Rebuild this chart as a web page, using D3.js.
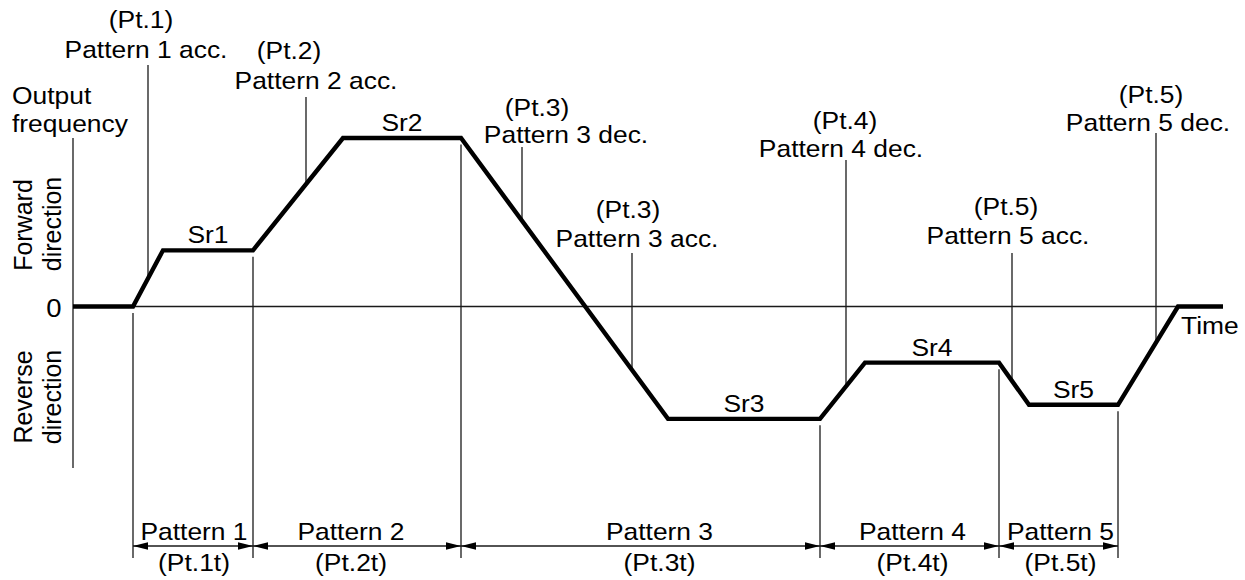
<!DOCTYPE html>
<html>
<head>
<meta charset="utf-8">
<script src="https://cdn.jsdelivr.net/npm/d3@7"></script>
<style>
  body { margin: 0; background: #fff; }
  svg text { font-family: "Liberation Sans", Arial, Helvetica, sans-serif; fill: #000; }
</style>
</head>
<body>
<div id="viz"></div>
<script>
// Output frequency vs time, 5-step pattern run

// profile breakpoints (time units, frequency units)
const TIME = [0, 60, 90, 180, 270, 388, 595, 747, 792, 926, 956, 1045, 1105, 1150];
const FREQ = [0, 0, 20, 20, 60, 60, -40, -40, -20, -20, -35, -35, 0, 0];

// pattern boundaries on the time axis
const BOUNDARIES = [60, 180, 388, 747, 926, 1045];
const PATTERNS = ["Pattern 1", "Pattern 2", "Pattern 3", "Pattern 4", "Pattern 5"];
const PATTERN_TIMES = ["(Pt.1t)", "(Pt.2t)", "(Pt.3t)", "(Pt.4t)", "(Pt.5t)"];

// speed plateaus: index of plateau start in TIME
const SPEEDS = ["Sr1", "Sr2", "Sr3", "Sr4", "Sr5"];
const SPEED_START = [2, 4, 6, 8, 10];

// callouts on the ramps
const CALLOUT_T = [75, 233, 449, 559, 773, 939, 1083];
const CALLOUT_REF = ["(Pt.1)", "(Pt.2)", "(Pt.3)", "(Pt.3)", "(Pt.4)", "(Pt.5)", "(Pt.5)"];
const CALLOUT_TEXT = ["Pattern 1 acc.", "Pattern 2 acc.", "Pattern 3 dec.", "Pattern 3 acc.",
                      "Pattern 4 dec.", "Pattern 5 acc.", "Pattern 5 dec."];

// layout only (pixels): leader top, line offsets / baselines
const CALLOUT_LAYOUT = [
  { top: 65,  dx1: -7,  b1: 28,  dx2: -2,  b2: 58 },
  { top: 97,  dx1: -17, b1: 59,  dx2: 10,  b2: 89 },
  { top: 147, dx1: 15,  b1: 116, dx2: 44,  b2: 143 },
  { top: 253, dx1: -4,  b1: 218, dx2: 5,   b2: 247 },
  { top: 160, dx1: -1,  b1: 129, dx2: -5,  b2: 157 },
  { top: 253, dx1: -6,  b1: 215, dx2: -4,  b2: 244 },
  { top: 133, dx1: -5,  b1: 103, dx2: -8,  b2: 131 }
];
const PATTERN_DX = [1, -6, 19, 3, 2];

const width = 1245, height = 580;
const STRETCH = 1.1;   // glyphs in the source are a little wide

const x = d3.scaleLinear().domain([0, 1150]).range([73, 1223]);
const y = d3.scaleLinear().domain([-60, 60]).range([475, 138]);

const svg = d3.select("#viz").append("svg")
  .attr("width", width).attr("height", height)
  .attr("viewBox", `0 0 ${width} ${height}`);

function freqAt(t) {
  for (let i = 1; i < TIME.length; i++) {
    if (t <= TIME[i]) {
      const k = (t - TIME[i-1]) / (TIME[i] - TIME[i-1]);
      return FREQ[i-1] + k * (FREQ[i] - FREQ[i-1]);
    }
  }
  return FREQ[FREQ.length - 1];
}

function label(txt, px, py, anchor, size) {
  return svg.append("text")
    .attr("transform", `translate(${px},${py}) scale(${STRETCH},1)`)
    .attr("text-anchor", anchor || "middle")
    .attr("font-size", size || 24)
    .text(txt);
}

const thin = { stroke: "#1a1a1a", w: 1.3 };

// axes
svg.append("line")
  .attr("x1", x(0)).attr("x2", x(0))
  .attr("y1", y(60)).attr("y2", y(-57.5))
  .attr("stroke", thin.stroke).attr("stroke-width", thin.w);

svg.append("line")
  .attr("x1", x(0)).attr("x2", x(1150))
  .attr("y1", y(0)).attr("y2", y(0))
  .attr("stroke", thin.stroke).attr("stroke-width", thin.w);

// pattern boundaries
const dimY = 546, dimBottom = 558;
svg.append("g").selectAll("line")
  .data(BOUNDARIES)
  .enter().append("line")
  .attr("x1", d => x(d)).attr("x2", d => x(d))
  .attr("y1", d => y(freqAt(d)) + 6.5)
  .attr("y2", dimBottom)
  .attr("stroke", thin.stroke).attr("stroke-width", thin.w);

// dimension line with arrows
svg.append("line")
  .attr("x1", x(BOUNDARIES[0])).attr("x2", x(BOUNDARIES[BOUNDARIES.length-1]))
  .attr("y1", dimY).attr("y2", dimY)
  .attr("stroke", thin.stroke).attr("stroke-width", thin.w);

const arrows = [];
for (let i = 0; i < BOUNDARIES.length - 1; i++) {
  arrows.push({ at: BOUNDARIES[i], dir: 1 });
  arrows.push({ at: BOUNDARIES[i+1], dir: -1 });
}
svg.append("g").selectAll("path")
  .data(arrows)
  .enter().append("path")
  .attr("fill", "#000")
  .attr("d", d => {
    const px = x(d.at), L = 15 * d.dir;
    return `M${px},${dimY} L${px + L},${dimY - 3.8} L${px + L},${dimY + 3.8} Z`;
  });

PATTERNS.forEach((p, i) => {
  const cx = (x(BOUNDARIES[i]) + x(BOUNDARIES[i+1])) / 2 + PATTERN_DX[i];
  label(p, cx, 540);
  label(PATTERN_TIMES[i], cx, 571);
});

// callout leaders
CALLOUT_T.forEach((t, i) => {
  const L = CALLOUT_LAYOUT[i];
  const lx = x(t);
  svg.append("line")
    .attr("x1", lx).attr("x2", lx)
    .attr("y1", L.top).attr("y2", y(freqAt(t)))
    .attr("stroke", thin.stroke).attr("stroke-width", thin.w);
  label(CALLOUT_REF[i], lx + L.dx1, L.b1);
  label(CALLOUT_TEXT[i], lx + L.dx2, L.b2);
});

// frequency profile
const line = d3.line().x(d => x(d[0])).y(d => y(d[1]));
svg.append("path")
  .datum(TIME.map((t, i) => [t, FREQ[i]]))
  .attr("fill", "none")
  .attr("stroke", "#000")
  .attr("stroke-width", 4.4)
  .attr("stroke-linejoin", "miter")
  .attr("d", line);

// plateau labels
SPEEDS.forEach((s, i) => {
  const a = SPEED_START[i];
  label(s, (x(TIME[a]) + x(TIME[a+1])) / 2, y(FREQ[a]) - 7);
});

// axis labels
label("Output", 12, 104, "start");
label("frequency", 12, 132, "start");
label("0", 54, 317, "middle", 25);
label("Time", 1181, 334, "start");

function vlabel(txt, bx, cy) {
  svg.append("text")
    .attr("transform", `translate(${bx},${cy}) rotate(-90)`)
    .attr("text-anchor", "middle")
    .attr("font-size", 25)
    .text(txt);
}
vlabel("Forward", 32, 225);
vlabel("direction", 61, 224);
vlabel("Reverse", 32, 397);
vlabel("direction", 61, 397);
</script>
</body>
</html>
